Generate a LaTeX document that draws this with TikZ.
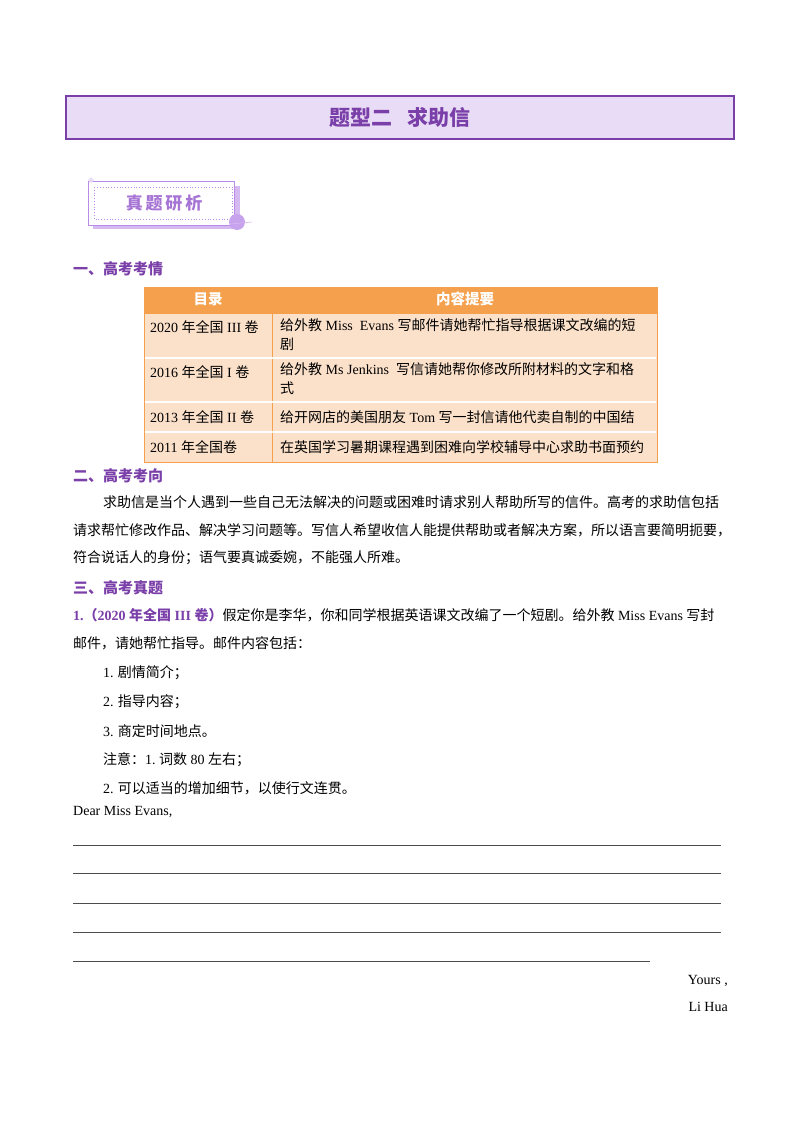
\documentclass[tikz,border=0pt]{standalone}
\usepackage{fontspec}
\setmainfont{Liberation Serif}
\newfontfamily\cjk{Noto Sans CJK SC}
\definecolor{pur}{HTML}{7A3FA8}
\definecolor{lav}{HTML}{E9DCF6}
\definecolor{org}{HTML}{F5A04C}
\definecolor{peach}{HTML}{FCE1CA}
\definecolor{lpur}{HTML}{B98BE8}
\begin{document}
\begin{tikzpicture}[x=1pt,y=-1pt,
  txt/.style={anchor=west,inner sep=0pt,font=\fontsize{14}{16}\selectfont\cjk},
  head/.style={anchor=west,inner sep=0pt,font=\fontsize{15}{17}\selectfont\cjk\bfseries,text=pur},
  cell/.style={anchor=west,inner sep=0pt,font=\fontsize{14}{19}\selectfont\cjk,align=left},
  wline/.style={draw=black!70,line width=0.5pt}]
\useasboundingbox[fill=white] (0,0) rectangle (800,1132);
% title
\node[draw=pur,line width=1.8pt,fill=lav,minimum width=668,minimum height=43,font=\fontsize{21}{23}\selectfont\cjk\bfseries,text=pur] (title) at (400,117.5) {题型二\ \ \ 求助信};
% badge
\fill[lpur!60] (93,186) rectangle (240,229);
\node[draw=lpur,fill=white,minimum width=146,minimum height=44,line width=0.8pt] (badge) at (161,203) {};
\draw[lpur,dotted,line width=0.8pt] (94,187) rectangle (232,219);
\node[font=\fontsize{17}{19}\selectfont\cjk\bfseries,text=lpur!70!pur] (btxt) at (164,203) {真\,题\,研\,析};
\fill[lpur!80] (237,222) circle (8);
\draw[lpur!60,line width=0.6pt] (230,224) -- (252,222);
\fill[lav] (88,180) -- (91,177) -- (94,180) -- (91,183) -- cycle;
% section 1
\node[head] (h1) at (73,269) {一、高考考情};
% table
\fill[org] (144,287) rectangle (657,314);
\fill[peach] (144,314) rectangle (657,462);
\draw[org,line width=1pt] (144,287) rectangle (657,462);
\draw[org,line width=1pt] (272,314) -- (272,462);
\foreach \y in {358,402,432} \draw[white,line width=1.5pt] (145,\y) -- (656,\y);
\node[font=\fontsize{14.5}{16}\selectfont\cjk\bfseries,text=white] (c1) at (208,299) {目录};
\node[font=\fontsize{14.5}{16}\selectfont\cjk\bfseries,text=white] (c2) at (465,299) {内容提要};
\node[cell] (r1a) at (150,327) {{\rmfamily 2020 }年全国{\rmfamily\ III }卷};
\node[cell,anchor=north west] (r1b) at (280,318) {给外教{\rmfamily\ Miss\ \ Evans }写邮件请她帮忙指导根据课文改编的短\\剧};
\node[cell] (r2a) at (150,372) {{\rmfamily 2016 }年全国{\rmfamily\ I }卷};
\node[cell,anchor=north west] (r2b) at (280,362) {给外教{\rmfamily\ Ms Jenkins\ \ }写信请她帮你修改所附材料的文字和格\\式};
\node[cell] (r3a) at (150,417) {{\rmfamily 2013 }年全国{\rmfamily\ II }卷};
\node[cell] (r3b) at (280,417) {给开网店的美国朋友{\rmfamily\ Tom }写一封信请他代卖自制的中国结};
\node[cell] (r4a) at (150,447) {{\rmfamily 2011 }年全国卷};
\node[cell] (r4b) at (280,447) {在英国学习暑期课程遇到困难向学校辅导中心求助书面预约};
% section 2
\node[head] (h2) at (73,476) {二、高考考向};
\node[txt] (p1) at (103,502) {求助信是当个人遇到一些自己无法解决的问题或困难时请求别人帮助所写的信件。高考的求助信包括};
\node[txt] (p2) at (73,530) {请求帮忙修改作品、解决学习问题等。写信人希望收信人能提供帮助或者解决方案，所以语言要简明扼要，};
\node[txt] (p3) at (73,558) {符合说话人的身份；语气要真诚委婉，不能强人所难。};
% section 3
\node[head] (h3) at (73,588) {三、高考真题};
\node[txt] (q1) at (73,615) {{\color{pur}\bfseries{\rmfamily 1.}（{\rmfamily 2020 }年全国{\rmfamily\ III }卷）}假定你是李华，你和同学根据英语课文改编了一个短剧。给外教{\rmfamily\ Miss Evans }写封};
\node[txt] (q2) at (73,643) {邮件，请她帮忙指导。邮件内容包括：};
\node[txt] (i1) at (103,673) {{\rmfamily 1.} 剧情简介；};
\node[txt] (i2) at (103,702) {{\rmfamily 2.} 指导内容；};
\node[txt] (i3) at (103,731) {{\rmfamily 3.} 商定时间地点。};
\node[txt] (n1) at (103,760) {注意：{\rmfamily 1.\ }词数{\rmfamily\ 80 }左右；};
\node[txt] (n2) at (103,788) {{\rmfamily 2.} 可以适当的增加细节，以使行文连贯。};
\node[anchor=west,inner sep=0pt,font=\fontsize{14}{16}\selectfont] (dear) at (73,812) {Dear Miss Evans,};
\foreach \y in {845,873,903,932} \draw[wline] (73,\y) -- (721,\y);
\draw[wline] (73,961) -- (650,961);
\node[anchor=east,inner sep=0pt,font=\fontsize{14}{16}\selectfont] (yours) at (728,981) {Yours ,};
\node[anchor=east,inner sep=0pt,font=\fontsize{14}{16}\selectfont] (li) at (728,1007) {Li Hua};
\end{tikzpicture}
\end{document}
